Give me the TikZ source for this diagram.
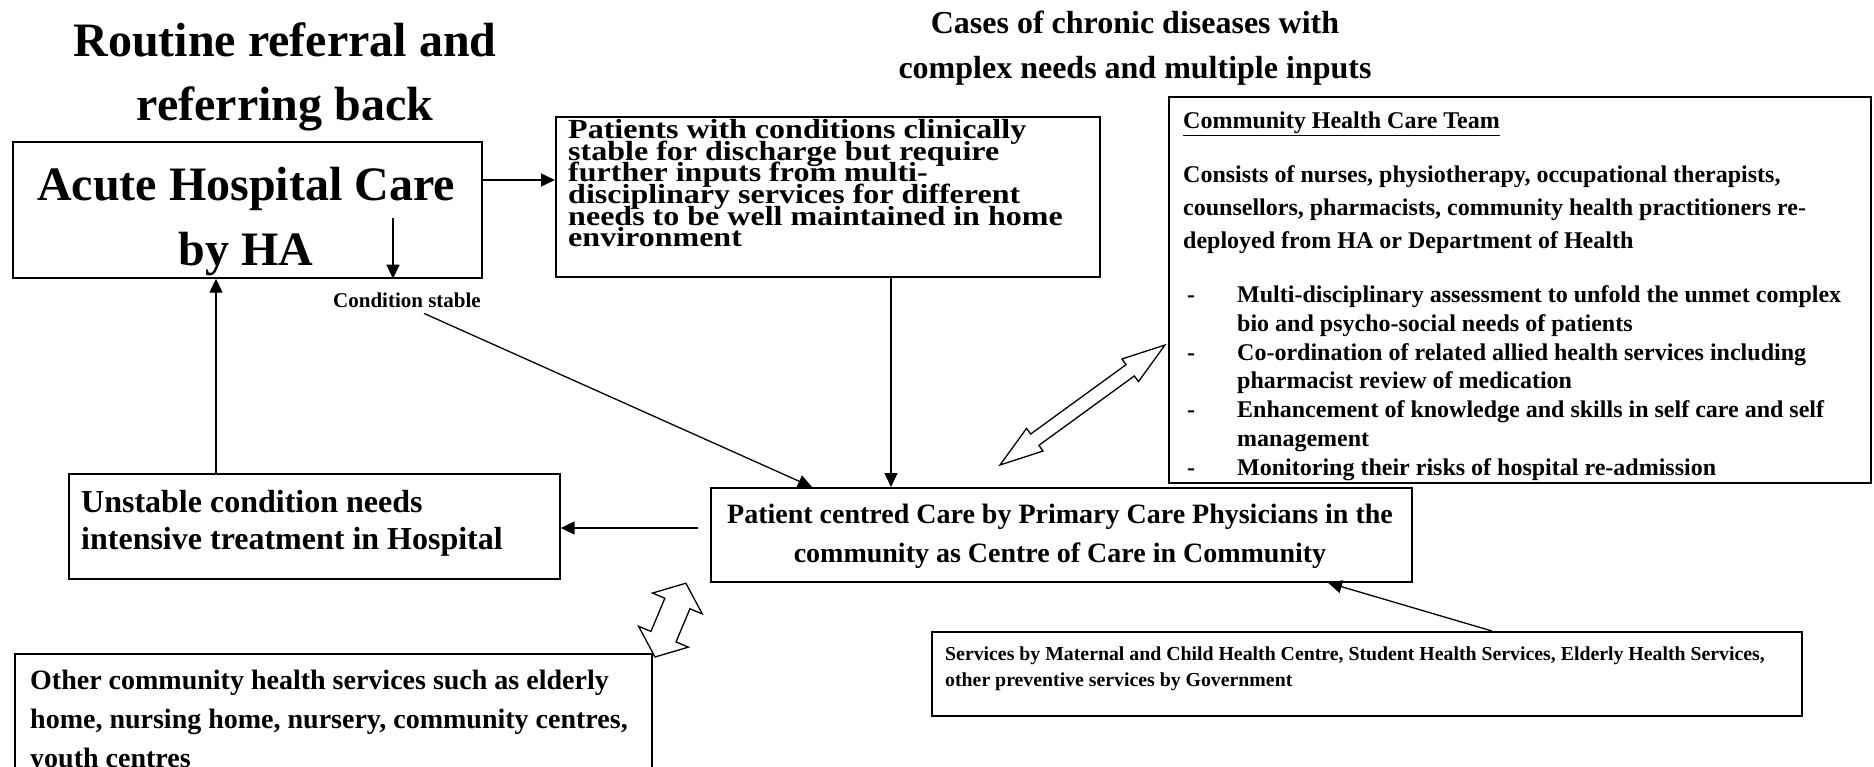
\documentclass[tikz,border=0pt]{standalone}
\usepackage{fontspec}
\setmainfont{Liberation Serif}
\usetikzlibrary{arrows.meta,calc}

% bold text at a given size and a fixed, exact line pitch
\newcommand\setfs[2]{\fontsize{#1}{#2}\selectfont\bfseries\lineskiplimit=-100pt\lineskip=0pt\relax}

\tikzset{
  box/.style={draw, line width=1.7pt, inner sep=0pt, anchor=north west},
  txt/.style={inner sep=0pt},
  arr/.style={line width=1.3pt, -{Triangle[length=14pt,width=13pt]}},
  pics/dblarrow/.style args={#1/#2/#3/#4}{code={
    \draw[line width=1.3pt, line join=miter, fill=white]
      (0,0) -- (#2,#3) -- (#2,#4) -- ({#1-#2},#4) -- ({#1-#2},#3) -- (#1,0)
      -- ({#1-#2},-#3) -- ({#1-#2},-#4) -- (#2,-#4) -- (#2,-#3) -- cycle;}},
}

\begin{document}
\begin{tikzpicture}[x=1pt,y=1pt]
\useasboundingbox (0,0) rectangle (1874,-767);
\clip (0,0) rectangle (1874,-767);

% headings (multi-line nodes are placed by the baseline of their last line)
\node[txt, anchor=base, align=center, font=\setfs{48}{64}] (title) at (285,-121)
  {Routine referral and\\referring back};
\node[txt, anchor=base, align=center, font=\setfs{32}{45}] (cases) at (1135,-79)
  {Cases of chronic diseases with\\complex needs and multiple inputs};

% boxes
\node[box, minimum width=469pt, minimum height=136pt] (acute) at (12,-141) {};
\node[box, minimum width=544pt, minimum height=160pt] (patients) at (555,-116) {};
\node[box, minimum width=702pt, minimum height=386pt] (team) at (1168,-96) {};
\node[box, minimum width=701pt, minimum height=94pt] (pc) at (710,-487) {};
\node[box, minimum width=491pt, minimum height=105pt] (unstable) at (68,-473) {};
\node[box, minimum width=637pt, minimum height=125pt] (other) at (14,-653) {};
\node[box, minimum width=870pt, minimum height=84pt] (services) at (931,-631) {};

% box texts
\node[txt, anchor=base, align=center, font=\setfs{48}{66}] (acutetxt) at (246,-266)
  {Acute Hospital Care\\by HA};
\node[txt, anchor=base west, align=left, font=\setfs{27.6}{21.7}, xscale=1.16, transform shape]
  (patientstxt) at (568,-247)
  {Patients with conditions clinically\\stable for discharge but require\\further inputs from multi-\\disciplinary services for different\\needs to be well maintained in home\\environment};
\node[txt, anchor=base west, font=\setfs{24}{28}] (teamhead) at (1183,-129)
  {\underline{Community Health Care Team}};
\node[txt, anchor=base west, align=left, font=\setfs{24}{33}] (teamtxt) at (1183,-249)
  {Consists of nurses, physiotherapy, occupational therapists,\\counsellors, pharmacists, community health practitioners re-\\deployed from HA or Department of Health};
\node[txt, anchor=base west, align=left, font=\setfs{24}{28.7}] (teamlist) at (1187,-475)
  {\makebox[50pt][l]{-}Multi-disciplinary assessment to unfold the unmet complex\\
   \makebox[50pt][l]{}bio and psycho-social needs of patients\\
   \makebox[50pt][l]{-}Co-ordination of related allied health services including\\
   \makebox[50pt][l]{}pharmacist review of medication\\
   \makebox[50pt][l]{-}Enhancement of knowledge and skills in self care and self\\
   \makebox[50pt][l]{}management\\
   \makebox[50pt][l]{-}Monitoring their risks of hospital re-admission};
\node[txt, anchor=base, align=center, font=\setfs{28}{39.5}] (pctxt) at (1060,-562.5)
  {Patient centred Care by Primary Care Physicians in the\\community as Centre of Care in Community};
\node[txt, anchor=base west, align=left, font=\setfs{32}{37}] (unstabletxt) at (81,-549)
  {Unstable condition needs\\intensive treatment in Hospital};
\node[txt, anchor=base west, align=left, font=\setfs{28}{38.6}] (othertxt) at (30,-767)
  {Other community health services such as elderly\\home, nursing home, nursery, community centres,\\youth centres};
\node[txt, anchor=base west, align=left, font=\setfs{19.8}{26}] (servicestxt) at (945,-686)
  {Services by Maternal and Child Health Centre, Student Health Services, Elderly Health Services,\\other preventive services by Government};
\node[txt, anchor=base, font=\setfs{21}{25}] (cs) at (407,-308) {Condition stable};

% reference points for connectors
\coordinate (xup) at (216,0);
\coordinate (xdown) at (393,0);
\coordinate (xstable) at (812,0);
\coordinate (xmid) at (891,0);
\coordinate (xserv) at (1492,0);
\coordinate (xpc) at (1328,0);
\coordinate (dstart) at (393,-218);
\coordinate (back) at (698,-528);

% connectors
\draw[arr] ($(acute.north east)+(0,-39)$) -- ($(patients.north west)+(0,-64)$);
\draw[arr] (dstart) -- (acute.south -| xdown);
\draw[arr] (unstable.north -| xup) -- (acute.south -| xup);
\draw[arr] ($(cs.south)+(17,-5)$) -- (pc.north -| xstable);
\draw[arr] (patients.south -| xmid) -- (pc.north -| xmid);
\draw[arr] (back) -- (unstable.east |- back);
\draw[arr] (services.north -| xserv) -- (pc.south -| xpc);

% hollow two-way arrows
\pic[rotate=36.03] at (1000,-465) {dblarrow=204/43/14/7};
\pic[rotate=67.3] at (655,-657) {dblarrow=80/22/27/13.6};
\end{tikzpicture}
\end{document}
